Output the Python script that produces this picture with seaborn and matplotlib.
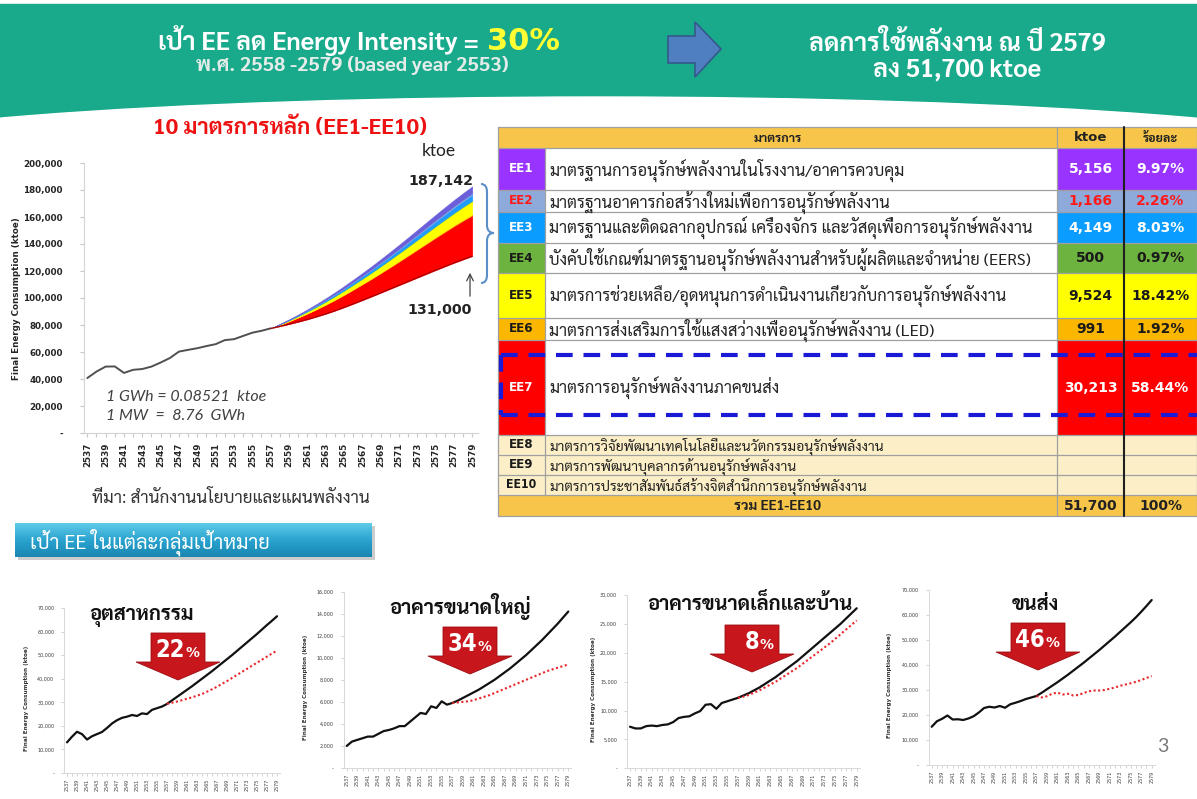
import numpy as np
import pandas as pd
import matplotlib
matplotlib.use("Agg")
import matplotlib.pyplot as plt
import matplotlib.patheffects as pe
import seaborn as sns
from matplotlib import font_manager as fm
from matplotlib.ft2font import FT2Font
from matplotlib.patches import Rectangle, Ellipse, Polygon, PathPatch
from matplotlib.path import Path
from matplotlib.ticker import FuncFormatter, MultipleLocator

# ---------------------------------------------------------------- data
hist_years = list(range(2537, 2558))
proj_years = list(range(2557, 2580))

# national final energy consumption (thousand ktoe)
main_hist_k = [40.7, 45.5, 49.2, 49.3, 44.5, 46.8, 47.4, 49.2, 52.2, 55.5, 60.3,
               61.6, 62.8, 64.4, 65.8, 68.8, 69.5, 71.9, 74.3, 75.7, 77.5]
main_low_k = [77.5, 79.0, 80.6, 82.3, 84.1, 86.1, 88.2, 90.5, 93.0, 95.6, 98.3, 101.0,
              103.8, 106.6, 109.4, 112.2, 115.0, 117.8, 120.6, 123.3, 126.0, 128.5, 131.0]
main_bau_k = [77.5, 80.8, 84.2, 87.8, 91.6, 95.6, 99.8, 104.2, 108.8, 113.6, 118.5, 123.5,
              128.7, 134.0, 139.4, 144.9, 150.5, 156.1, 161.7, 167.2, 172.6, 177.8, 182.7]
bau_label_2579 = 187142

measure_codes = ["EE1", "EE2", "EE3", "EE4", "EE5", "EE6", "EE7", "EE8", "EE9", "EE10"]
measure_names = [
    "มาตรฐานการอนุรักษ์พลังงานในโรงงาน/อาคารควบคุม",
    "มาตรฐานอาคารก่อสร้างใหม่เพื่อการอนุรักษ์พลังงาน",
    "มาตรฐานและติดฉลากอุปกรณ์ เครื่องจักร และวัสดุเพื่อการอนุรักษ์พลังงาน",
    "บังคับใช้เกณฑ์มาตรฐานอนุรักษ์พลังงานสำหรับผู้ผลิตและจำหน่าย (EERS)",
    "มาตรการช่วยเหลือ/อุดหนุนการดำเนินงานเกี่ยวกับการอนุรักษ์พลังงาน",
    "มาตรการส่งเสริมการใช้แสงสว่างเพื่ออนุรักษ์พลังงาน (LED)",
    "มาตรการอนุรักษ์พลังงานภาคขนส่ง",
    "มาตรการวิจัยพัฒนาเทคโนโลยีและนวัตกรรมอนุรักษ์พลังงาน",
    "มาตรการพัฒนาบุคลากรด้านอนุรักษ์พลังงาน",
    "มาตรการประชาสัมพันธ์สร้างจิตสำนึกการอนุรักษ์พลังงาน",
]
measure_ktoe = [5156, 1166, 4149, 500, 9524, 991, 30213, None, None, None]
total_ktoe = 51700

sector_titles = ["อุตสาหกรรม", "อาคารขนาดใหญ่", "อาคารขนาดเล็กและบ้าน", "ขนส่ง"]
sector_cuts = ["22", "34", "8", "46"]

ind_hist_k = [13.0, 15.4, 17.5, 16.5, 14.2, 15.6, 16.5, 17.4, 19.1, 21.0, 22.4,
              23.4, 23.9, 24.6, 24.2, 25.3, 25.0, 26.8, 27.5, 28.2, 29.3]
ind_bau_k = [29.3, 30.8, 32.3, 33.8, 35.3, 36.8, 38.4, 40.0, 41.6, 43.2, 44.9, 46.6,
             48.3, 50.0, 51.8, 53.6, 55.4, 57.2, 59.0, 60.9, 62.8, 64.6, 66.5]
ind_ee_k = [29.3, 29.8, 30.3, 30.9, 31.5, 32.1, 32.8, 33.5, 34.5, 35.5, 36.6, 37.8,
            39.0, 40.3, 41.6, 42.9, 44.2, 45.5, 46.8, 48.1, 49.4, 50.7, 51.9]

big_hist_k = [2.0, 2.4, 2.55, 2.7, 2.85, 2.85, 3.1, 3.35, 3.45, 3.6, 3.8,
              3.8, 4.2, 4.6, 5.0, 4.9, 5.6, 5.45, 6.05, 5.75, 5.9]
big_bau_k = [5.9, 6.1, 6.35, 6.6, 6.85, 7.1, 7.4, 7.7, 8.0, 8.35, 8.7, 9.05,
             9.45, 9.85, 10.25, 10.7, 11.15, 11.6, 12.1, 12.6, 13.1, 13.65, 14.2]
big_ee_k = [5.9, 5.95, 6.0, 6.05, 6.15, 6.3, 6.45, 6.6, 6.8, 7.0, 7.2, 7.4,
            7.6, 7.8, 8.0, 8.2, 8.4, 8.6, 8.8, 8.95, 9.1, 9.25, 9.4]

small_hist_k = [7.2, 6.9, 6.9, 7.3, 7.4, 7.3, 7.5, 7.6, 8.0, 8.7, 8.9,
                9.0, 9.5, 9.9, 11.0, 11.1, 10.3, 11.3, 11.6, 11.9, 12.2]
small_bau_k = [12.2, 12.6, 13.0, 13.5, 14.0, 14.6, 15.2, 15.8, 16.5, 17.2, 17.9, 18.6,
               19.4, 20.2, 21.0, 21.8, 22.6, 23.4, 24.2, 25.0, 25.9, 26.8, 27.7]
small_ee_k = [12.2, 12.4, 12.7, 13.1, 13.5, 14.0, 14.5, 15.0, 15.6, 16.2, 16.8, 17.4,
              18.1, 18.8, 19.5, 20.2, 20.9, 21.6, 22.4, 23.2, 24.0, 24.8, 25.6]

trans_hist_k = [15.3, 17.5, 18.5, 19.8, 18.2, 18.3, 18.0, 18.6, 19.5, 21.0, 22.8,
                23.3, 23.0, 23.6, 22.9, 24.3, 24.9, 25.6, 26.4, 27.0, 27.6]
trans_bau_k = [27.6, 28.9, 30.3, 31.7, 33.1, 34.6, 36.1, 37.7, 39.3, 40.9, 42.6, 44.3,
               46.0, 47.8, 49.6, 51.4, 53.3, 55.2, 57.1, 59.1, 61.3, 63.6, 66.0]
trans_ee_k = [27.6, 27.0, 27.5, 28.5, 29.0, 28.2, 28.5, 27.8, 28.0, 28.8, 29.5, 29.8,
              29.8, 30.0, 30.5, 31.0, 31.7, 32.2, 32.7, 33.3, 34.0, 34.8, 35.6]

# ---------------------------------------------------------------- fonts
sns.set_theme(style="white")


def thai_family_weights():
    found = {}
    for entry in fm.fontManager.ttflist:
        try:
            if ord("ก") not in FT2Font(entry.fname).get_charmap():
                continue
        except Exception:
            continue
        w = entry.weight
        if isinstance(w, str):
            w = fm.weight_dict.get(w, 400)
        found.setdefault(entry.name, set()).add(int(w))
    return found


thai_found = thai_family_weights()
preferred = ["Tahoma", "Noto Sans Thai", "Noto Sans Thai UI", "Sarabun", "Loma", "Garuda",
             "Waree", "Umpush", "Kinnari", "Norasi", "Tlwg Typo", "Laksaman"]
ordered = [p for p in preferred if p in thai_found] + sorted(n for n in thai_found if n not in preferred)
with_bold = [n for n in ordered if max(thai_found[n]) >= 600]
THAI = with_bold[0] if with_bold else (ordered[0] if ordered else None)
THAI_BOLD = bool(with_bold)
FAMS = ([THAI] if THAI else []) + ["DejaVu Sans"]
plt.rcParams["font.family"] = FAMS
NUM = ["DejaVu Sans"]
LAT = ["Lato", "DejaVu Sans"]


def heavy(color, width=1.0):
    # thicken glyph strokes when the Thai face has no bold cut
    if THAI_BOLD:
        return None
    return [pe.withStroke(linewidth=width, foreground=color)]


# ---------------------------------------------------------------- canvas
W, H = 1197, 799
fig = plt.figure(figsize=(W / 100, H / 100), dpi=100)
fig.patch.set_facecolor("white")


def px_axes(x0, y0, x1, y1, z=1):
    return fig.add_axes([x0 / W, 1 - y1 / H, (x1 - x0) / W, (y1 - y0) / H], zorder=z)


bg = px_axes(0, 0, W, H, z=0)
bg.set_xlim(0, W)
bg.set_ylim(H, 0)
bg.axis("off")

fg = px_axes(0, 0, W, H, z=5)
fg.set_xlim(0, W)
fg.set_ylim(H, 0)
fg.axis("off")
fg.patch.set_alpha(0)

# header band
bg.add_patch(Rectangle((0, 4), W, 118, color="#19a98b", zorder=1))
bg.add_patch(Ellipse((598, 160), 1600, 126, color="white", zorder=2))
bg.text(485, 50, "เป้า EE ลด Energy Intensity = ", ha="right", va="baseline",
        fontsize=18, weight="bold", color="white", zorder=3, path_effects=heavy("white", 1.3))
bg.text(487, 50, "30%", ha="left", va="baseline", fontsize=22, weight="bold",
        color="#ffff33", zorder=3, family=NUM)
bg.text(352, 71, "พ.ศ. 2558 -2579 (based year 2553)", ha="center", va="baseline",
        fontsize=14.5, weight="bold", color="#e4ece9", zorder=3, path_effects=heavy("#e4ece9", 0.9))
bg.add_patch(Polygon([(668, 36), (695, 36), (695, 22), (721, 49), (695, 77), (695, 63), (668, 63)],
                     closed=True, fc="#4f7fc0", ec="#34598c", lw=1.2, zorder=3))
bg.text(957, 51, "ลดการใช้พลังงาน ณ ปี 2579", ha="center", va="baseline",
        fontsize=18, weight="bold", color="white", zorder=3, path_effects=heavy("white", 1.3))
bg.text(957, 76, "ลง 51,700 ktoe", ha="center", va="baseline",
        fontsize=18, weight="bold", color="white", zorder=3, path_effects=heavy("white", 1.3))

# ---------------------------------------------------------------- main chart
band_colors = ["#6b5fd9", "#7ba3e0", "#1e9bff", "#6cc04a", "#ffff00", "#ffc000", "#ff0000"]

ppy = (472.3 - 87.3) / 42
axm = px_axes(87.3 - 0.4 * ppy, 163, 472.3 + 0.6 * ppy, 433, z=2)
axm.patch.set_alpha(0)
df_hist = pd.DataFrame({"year": hist_years, "ktoe": np.array(main_hist_k) * 1000})
sns.lineplot(data=df_hist, x="year", y="ktoe", ax=axm, color="#505050", lw=1.4)

low = np.array(main_low_k) * 1000
bau = np.array(main_bau_k) * 1000
amounts = np.array(measure_ktoe[:7], dtype=float)
shares = amounts / amounts.sum()
saving = bau - low
base = low.copy()
for idx in [6, 5, 4, 3, 2, 1, 0]:
    top = base + saving * shares[idx]
    axm.fill_between(proj_years, base, top, color=band_colors[idx], lw=0.3,
                     edgecolor=band_colors[idx])
    base = top
df_low = pd.DataFrame({"year": proj_years, "ktoe": low})
sns.lineplot(data=df_low, x="year", y="ktoe", ax=axm, color="#a00000", lw=0.8)

axm.set_xlim(2536.6, 2579.6)
axm.set_ylim(0, 200000)
axm.yaxis.set_major_locator(MultipleLocator(20000))
axm.yaxis.set_major_formatter(FuncFormatter(lambda v, p: "-" if v == 0 else f"{v:,.0f}"))
axm.set_xticks(list(range(2537, 2580, 2)))
axm.set_xticks(list(range(2537, 2580)), minor=True)
axm.set_xticklabels([str(y) for y in range(2537, 2580, 2)], rotation=90)
axm.tick_params(axis="both", which="both", direction="out", length=3, color="#c8c8c8",
                width=0.8, bottom=True, left=True)
axm.tick_params(axis="y", pad=12)
axm.tick_params(axis="x", pad=4)
for lab in axm.get_yticklabels() + axm.get_xticklabels():
    lab.set_fontfamily(NUM)
    lab.set_fontweight("bold")
    lab.set_fontsize(6.3)
    lab.set_color("#262626")
for side in ["top", "right"]:
    axm.spines[side].set_visible(False)
for side in ["left", "bottom"]:
    axm.spines[side].set_color("#d4d4d4")
    axm.spines[side].set_linewidth(0.8)
axm.set_xlabel("")
axm.set_ylabel("")

bg.text(17, 299, "Final Energy Consumption (ktoe)", rotation=90, ha="center", va="center",
        fontsize=6.3, weight="bold", color="#262626", family=NUM)
bg.text(290, 134, "10 มาตรการหลัก (EE1-EE10)", ha="center", va="baseline",
        fontsize=16, weight="bold", color="#ee1111", path_effects=heavy("#ee1111", 1.1))
fg.text(439, 156, "ktoe", ha="center", va="baseline", fontsize=12.5, color="#222222", family=LAT)
fg.text(441, 185, f"{bau_label_2579:,}", ha="center", va="baseline", fontsize=10.3,
        weight="bold", color="#222222", family=NUM)
fg.text(440, 314, f"{main_low_k[-1] * 1000:,.0f}", ha="center", va="baseline", fontsize=10.3,
        weight="bold", color="#222222", family=NUM)
fg.annotate("", xy=(470, 270), xytext=(470, 299),
            arrowprops=dict(arrowstyle="->", color="#444444", lw=0.9))
brace = Path([(481, 184), (487, 184), (487, 192), (487, 225), (487, 233), (494, 233),
              (487, 233), (487, 241), (487, 275), (487, 283), (481, 283)],
             [Path.MOVETO, Path.CURVE3, Path.CURVE3, Path.LINETO, Path.CURVE3, Path.CURVE3,
              Path.CURVE3, Path.CURVE3, Path.LINETO, Path.CURVE3, Path.CURVE3])
fg.add_patch(PathPatch(brace, fc="none", ec="#5b8fc7", lw=1.5))
fg.text(106, 401, "1 GWh = 0.08521  ktoe", ha="left", va="baseline", fontsize=11.5,
        style="italic", color="#404040", family=LAT)
fg.text(106, 420, "1 MW  =  8.76  GWh", ha="left", va="baseline", fontsize=11.5,
        style="italic", color="#404040", family=LAT)
bg.text(92, 503, "ที่มา: สำนักงานนโยบายและแผนพลังงาน", ha="left", va="baseline",
        fontsize=12.3, color="#333333", path_effects=heavy("#333333", 0.4))

# ---------------------------------------------------------------- measures table
col_x = [498, 545, 1057, 1124, 1197]
rows = [(148, 190), (190, 212), (212, 243), (243, 273), (273, 318), (318, 340),
        (340, 435), (435, 455), (455, 475), (475, 495)]
head = (127, 148)
foot = (495, 516)
gold = "#f6c54a"
cream = "#fcefc7"
cell_fill = ["#9933ff", "#8eaadb", "#0a9cff", "#6db33f", "#ffff00", "#fbb700", "#ff0000",
             cream, cream, cream]
cell_ink = ["white", "#ff1a1a", "white", "#1a1a1a", "#1a1a1a", "#1a1a1a", "white",
            "#1a1a1a", "#1a1a1a", "#1a1a1a"]

bg.add_patch(Rectangle((col_x[0], head[0]), col_x[-1] - col_x[0], head[1] - head[0],
                       fc=gold, ec="none", zorder=3))
bg.add_patch(Rectangle((col_x[0], foot[0]), col_x[-1] - col_x[0], foot[1] - foot[0],
                       fc=gold, ec="none", zorder=3))
for i, (y0, y1) in enumerate(rows):
    fill = cell_fill[i]
    desc_fill = cream if i >= 7 else "white"
    bg.add_patch(Rectangle((col_x[0], y0), col_x[1] - col_x[0], y1 - y0, fc=fill, ec="none", zorder=3))
    bg.add_patch(Rectangle((col_x[1], y0), col_x[2] - col_x[1], y1 - y0, fc=desc_fill, ec="none", zorder=3))
    bg.add_patch(Rectangle((col_x[2], y0), col_x[4] - col_x[2], y1 - y0, fc=fill, ec="none", zorder=3))
    yc = (y0 + y1) / 2
    bg.text((col_x[0] + col_x[1]) / 2, yc, measure_codes[i], ha="center", va="center",
            fontsize=9.5 if i < 9 else 8.8, weight="bold", color=cell_ink[i], family=NUM,
            fontstretch="condensed", zorder=5)
    bg.text(col_x[1] + 4, yc + 1, measure_names[i], ha="left", va="center",
            fontsize=11.8 if i < 7 else 10.0, color="#222222", zorder=5,
            path_effects=heavy("#222222", 0.35))
    if measure_ktoe[i] is not None:
        v = measure_ktoe[i]
        bg.text((col_x[2] + col_x[3]) / 2, yc, f"{v:,}", ha="center", va="center",
                fontsize=10, weight="bold", color=cell_ink[i], family=NUM, zorder=5)
        bg.text((col_x[3] + col_x[4]) / 2, yc, f"{v / total_ktoe * 100:.2f}%", ha="center",
                va="center", fontsize=10, weight="bold", color=cell_ink[i], family=NUM, zorder=5)

hy = (head[0] + head[1]) / 2
bg.text((col_x[0] + col_x[2]) / 2, hy + 1, "มาตรการ", ha="center", va="center", fontsize=9,
        weight="bold", color="#222222", zorder=5, path_effects=heavy("#222222", 0.7))
bg.text((col_x[2] + col_x[3]) / 2, hy, "ktoe", ha="center", va="center", fontsize=9.5,
        weight="bold", color="#222222", family=NUM, zorder=5)
bg.text((col_x[3] + col_x[4]) / 2, hy + 1, "ร้อยละ", ha="center", va="center", fontsize=9,
        weight="bold", color="#222222", zorder=5, path_effects=heavy("#222222", 0.7))
fy = (foot[0] + foot[1]) / 2
bg.text((col_x[0] + col_x[2]) / 2, fy + 1, "รวม EE1-EE10", ha="center", va="center", fontsize=10,
        weight="bold", color="#222222", zorder=5, path_effects=heavy("#222222", 0.8))
bg.text((col_x[2] + col_x[3]) / 2, fy, f"{total_ktoe:,}", ha="center", va="center", fontsize=10,
        weight="bold", color="#222222", family=NUM, zorder=5)
bg.text((col_x[3] + col_x[4]) / 2, fy, "100%", ha="center", va="center", fontsize=10,
        weight="bold", color="#222222", family=NUM, zorder=5)

edges_y = [head[0], head[1]] + [r[1] for r in rows] + [foot[1]]
for yy in edges_y:
    bg.plot([col_x[0], col_x[-1]], [yy, yy], color="#a0a0a0", lw=0.9, zorder=4)
for k, xx in enumerate(col_x):
    if k == 1:
        bg.plot([xx, xx], [head[1], foot[0]], color="#a0a0a0", lw=0.9, zorder=4)
    else:
        bg.plot([xx, xx], [head[0], foot[1]], color="#202020" if k == 3 else "#a0a0a0",
                lw=1.5 if k == 3 else 0.9, zorder=4)

dash = dict(color="#1a1ad6", lw=3, linestyle=(0, (4, 2.6)), zorder=6)
bg.plot([501, 1197], [355, 355], **dash)
bg.plot([501, 1197], [415, 415], **dash)
bg.plot([501, 501], [355, 415], **dash)

# ---------------------------------------------------------------- section button
bg.add_patch(Rectangle((18, 526), 357, 34, fc="#9a9a9a", ec="none", alpha=0.5, zorder=2))
grad = np.linspace(0, 1, 64).reshape(-1, 1)
bg.imshow(grad, cmap=matplotlib.colors.LinearSegmentedColormap.from_list(
    "btn", ["#5fcbe8", "#2aa3cf", "#1a86b2"]), extent=(15, 372, 557, 523),
    aspect="auto", zorder=3, interpolation="bilinear")
bg.set_xlim(0, W)
bg.set_ylim(H, 0)
bg.text(30, 542, "เป้า EE ในแต่ละกลุ่มเป้าหมาย", ha="left", va="center", fontsize=14.5,
        color="white", zorder=4)

# ---------------------------------------------------------------- sector panels
panels = [
    dict(box=(67, 277, 773, 608), ymax=70000, step=10000, hist=ind_hist_k, bau=ind_bau_k,
         ee=ind_ee_k, title_xy=(142, 617), arrow=(178, 633), ylab_x=27),
    dict(box=(346.7, 568.3, 768, 591.7), ymax=16000, step=2000, hist=big_hist_k, bau=big_bau_k,
         ee=big_ee_k, title_xy=(460, 607), arrow=(470, 627), ylab_x=306),
    dict(box=(630, 856.7, 768.3, 595), ymax=30000, step=5000, hist=small_hist_k, bau=small_bau_k,
         ee=small_ee_k, title_xy=(750, 604), arrow=(752, 625), ylab_x=594),
    dict(box=(931.7, 1151.7, 765, 590), ymax=70000, step=10000, hist=trans_hist_k, bau=trans_bau_k,
         ee=trans_ee_k, title_xy=(1035, 605), arrow=(1038, 623), ylab_x=889),
]

for p, title, cut in zip(panels, sector_titles, sector_cuts):
    x0, x1, yb, yt = p["box"]
    step_px = (x1 - x0) / 42
    ax = px_axes(x0 - 0.6 * step_px, yt, x1 + 0.6 * step_px, yb, z=2)
    ax.patch.set_alpha(0)
    base_line = pd.DataFrame({"year": hist_years + proj_years[1:],
                              "ktoe": np.array(p["hist"] + p["bau"][1:]) * 1000})
    ee_line = pd.DataFrame({"year": proj_years, "ktoe": np.array(p["ee"]) * 1000})
    sns.lineplot(data=base_line, x="year", y="ktoe", ax=ax, color="#111111", lw=1.6)
    sns.lineplot(data=ee_line, x="year", y="ktoe", ax=ax, color="#e8262b", lw=1.5,
                 linestyle=(0, (1.0, 1.2)))
    ax.set_xlim(2536.4, 2579.6)
    ax.set_ylim(0, p["ymax"])
    ax.yaxis.set_major_locator(MultipleLocator(p["step"]))
    ax.yaxis.set_major_formatter(FuncFormatter(lambda v, q: "-" if v == 0 else f"{v:,.0f}"))
    ax.set_xticks(list(range(2537, 2580, 2)))
    ax.set_xticks(list(range(2537, 2580)), minor=True)
    ax.set_xticklabels([str(y) for y in range(2537, 2580, 2)], rotation=90)
    ax.tick_params(axis="both", which="both", direction="out", length=2, color="#cccccc",
                   width=0.6, bottom=True, left=True)
    ax.tick_params(axis="y", pad=5)
    ax.tick_params(axis="x", pad=2)
    for lab in ax.get_yticklabels() + ax.get_xticklabels():
        lab.set_fontfamily(NUM)
        lab.set_fontsize(3.9)
        lab.set_fontstretch("condensed")
        lab.set_color("#3a3a3a")
    for side in ["top", "right"]:
        ax.spines[side].set_visible(False)
    for side in ["left", "bottom"]:
        ax.spines[side].set_color("#d8d8d8")
        ax.spines[side].set_linewidth(0.7)
    ax.set_xlabel("")
    ax.set_ylabel("")
    bg.text(p["ylab_x"], (yt + yb) / 2 + 8, "Final Energy Consumption (ktoe)", rotation=90,
            ha="center", va="center", fontsize=4.1, weight="bold", color="#333333", family=NUM)

    tx, ty = p["title_xy"]
    fg.text(tx, ty, title, ha="center", va="center", fontsize=14.5, weight="bold",
            color="#111111", path_effects=heavy("#111111", 1.4))
    cx, top_y = p["arrow"]
    fg.add_patch(Polygon([(cx - 27, top_y), (cx + 27, top_y), (cx + 27, top_y + 29),
                          (cx + 42, top_y + 29), (cx, top_y + 47), (cx - 42, top_y + 29),
                          (cx - 27, top_y + 29)], closed=True, fc="#c8161d", ec="#9b0d12", lw=0.6))
    fg.text(cx + 7, top_y + 24, cut, ha="right", va="baseline", fontsize=17, weight="bold",
            color="white", family=NUM, fontstretch="condensed")
    fg.text(cx + 8, top_y + 24, "%", ha="left", va="baseline", fontsize=10, weight="bold",
            color="white", family=NUM)

fg.text(1163, 752, "3", ha="center", va="baseline", fontsize=14, color="#7a7a7a", family=LAT)

fig.savefig("out.png", dpi=100, facecolor="white")
